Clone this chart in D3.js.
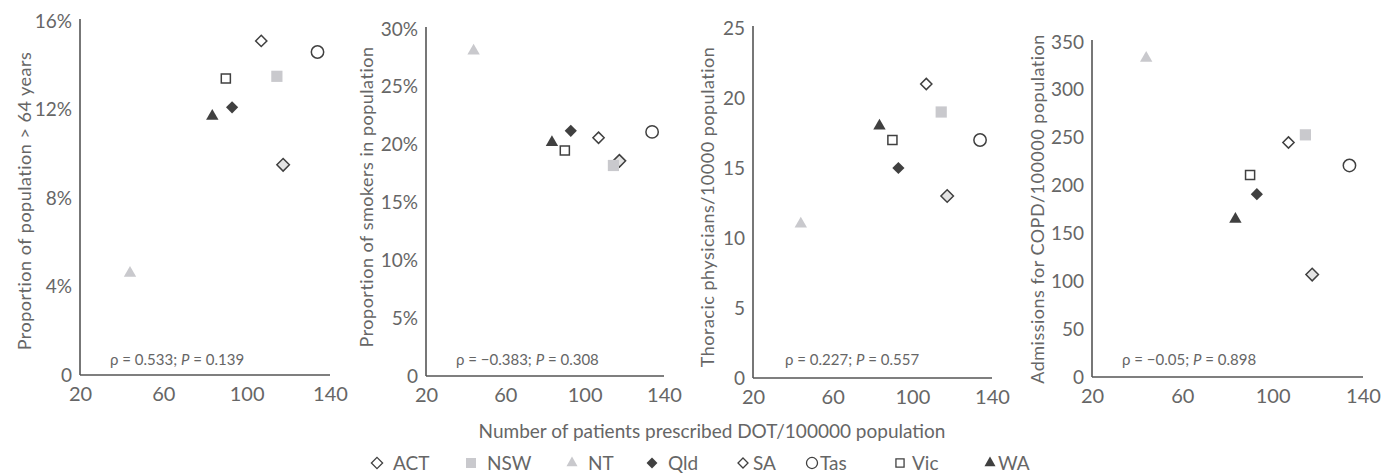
<!DOCTYPE html>
<html>
<head>
<meta charset="utf-8">
<script src="https://cdn.jsdelivr.net/npm/d3@7"></script>
<style>
  body { margin: 0; background: #fff; }
  svg text { font-family: Lato, "Open Sans", sans-serif; font-weight: 400; fill: #666; }
</style>
</head>
<body>
<div id="chart"></div>
<script>
// states and their values
var states = ["ACT", "NSW", "NT", "Qld", "SA", "Tas", "Vic", "WA"];
var dotRate = [117.5, 114.5, 44, 93, 107, 134, 90, 83.5];
var elderly = [9.5, 13.5, 4.6, 12.1, 15.1, 14.6, 13.4, 11.7];
var smokers = [18.6, 18.2, 28.1, 21.2, 20.6, 21.1, 19.5, 20.2];
var physicians = [13, 19, 11, 15, 21, 17, 17, 18];
var copd = [107, 253, 333, 191, 245, 221, 211, 165];

var xTicks = [20, 60, 100, 140];
var yTicks1 = [0, 4, 8, 12, 16];
var yTicks2 = [0, 5, 10, 15, 20, 25, 30];
var yTicks3 = [0, 5, 10, 15, 20, 25];
var yTicks4 = [0, 50, 100, 150, 200, 250, 300, 350];

var yTitles = ["Proportion of population > 64 years", "Proportion of smokers in population",
               "Thoracic physicians/10000 population", "Admissions for COPD/100000 population"];
var rhoText = ["0.533", "\u22120.383", "0.227", "\u22120.05"];
var pText = ["0.139", "0.308", "0.557", "0.898"];

var width = 1391, height = 473;

var svg = d3.select("#chart")
  .append("svg")
    .attr("width", width)
    .attr("height", height);

// marker styles per state
var dark = "#404040", light = "#c9c9cd";
var styles = {
  ACT: {sym: d3.symbolDiamond2, size: 100, fill: "#e4e4e4", stroke: dark},
  NSW: {sym: d3.symbolSquare2, size: 160, fill: light, stroke: "none"},
  NT:  {sym: d3.symbolTriangle2, size: 110, fill: light, stroke: "none"},
  Qld: {sym: d3.symbolDiamond2, size: 95, fill: dark, stroke: "none"},
  SA:  {sym: d3.symbolDiamond2, size: 80, fill: "#fff", stroke: dark},
  Tas: {sym: d3.symbolCircle, size: 120, fill: "#fff", stroke: dark},
  Vic: {sym: d3.symbolSquare2, size: 105, fill: "#fff", stroke: dark},
  WA:  {sym: d3.symbolTriangle2, size: 110, fill: dark, stroke: "none"}
};

// panel layout: plot box for each panel
var panels = [
  {x0: 80,   x1: 330,  y0: 375, y1: 21, ymax: 16,  ticks: yTicks1, vals: elderly,    pct: true,  tx: 24,   ty: 201, ax: 110},
  {x0: 426,  x1: 664,  y0: 376, y1: 29, ymax: 30,  ticks: yTicks2, vals: smokers,    pct: true,  tx: 366,  ty: 197, ax: 456},
  {x0: 753,  x1: 992,  y0: 378, y1: 28, ymax: 25,  ticks: yTicks3, vals: physicians, pct: false, tx: 707,  ty: 207, ax: 785},
  {x0: 1092, x1: 1363, y0: 377, y1: 42, ymax: 350, ticks: yTicks4, vals: copd,       pct: false, tx: 1037, ty: 209, ax: 1122}
];

panels.forEach(function(p, i) {
  var x = d3.scaleLinear().domain([20, 140]).range([p.x0, p.x1]);
  var y = d3.scaleLinear().domain([0, p.ymax]).range([p.y0, p.y1]);

  var g = svg.append("g");

  var xa = g.append("g")
    .attr("transform", "translate(0," + p.y0 + ")")
    .call(d3.axisBottom(x).tickValues(xTicks).tickSize(0).tickPadding(12));
  xa.selectAll("text").style("font-size", "20px");

  var ya = g.append("g")
    .attr("transform", "translate(" + p.x0 + ",0)")
    .call(d3.axisLeft(y).tickValues(p.ticks).tickSize(0).tickPadding(8)
      .tickFormat(function(d) { return d === 0 ? "0" : (p.pct ? d + "%" : d); }));
  ya.selectAll("text").style("font-size", "19px");

  // axis lines as plain L shape
  g.selectAll(".domain").remove();
  g.append("line")
    .attr("x1", p.x0).attr("x2", p.x0)
    .attr("y1", p.y1 - 2).attr("y2", p.y0)
    .attr("stroke", "#555").attr("stroke-width", 1.6);
  g.append("line")
    .attr("x1", p.x0).attr("x2", p.x1)
    .attr("y1", p.y0).attr("y2", p.y0)
    .attr("stroke", "#555").attr("stroke-width", 1.6);

  g.append("text")
    .attr("transform", "translate(" + p.tx + "," + p.ty + ") rotate(-90)")
    .attr("text-anchor", "middle")
    .attr("dominant-baseline", "central")
    .style("font-size", "18px")
    .style("letter-spacing", "0.5px")
    .text(yTitles[i]);

  var note = g.append("text")
    .attr("x", p.ax)
    .attr("y", 365)
    .style("font-size", "15px");
  note.append("tspan").text("\u03c1 = " + rhoText[i] + "; ");
  note.append("tspan").style("font-style", "italic").text("P");
  note.append("tspan").text(" = " + pText[i]);

  g.selectAll(".pt")
    .data(states)
    .enter().append("path")
      .attr("class", "pt")
      .attr("transform", function(d, j) { return "translate(" + x(dotRate[j]) + "," + y(p.vals[j]) + ")"; })
      .attr("d", function(d) { return d3.symbol().type(styles[d].sym).size(styles[d].size)(); })
      .attr("fill", function(d) { return styles[d].fill; })
      .attr("stroke", function(d) { return styles[d].stroke; })
      .attr("stroke-width", 1.5);
});

svg.append("text")
  .attr("x", 712)
  .attr("y", 438)
  .attr("text-anchor", "middle")
  .style("font-size", "19px")
  .text("Number of patients prescribed DOT/100000 population");

// legend
var legendX = [377, 471, 572, 652, 743, 812, 900, 990];
var legendTx = [393, 487, 588, 668, 753, 820, 912, 998];
var legend = svg.append("g");
states.forEach(function(s, i) {
  var st = styles[s];
  legend.append("path")
    .attr("transform", "translate(" + legendX[i] + ",463)")
    .attr("d", d3.symbol().type(st.sym).size(st.size * 0.8)())
    .attr("fill", s === "ACT" ? "#fff" : st.fill)
    .attr("stroke", st.stroke)
    .attr("stroke-width", 1.3);
  legend.append("text")
    .attr("x", legendTx[i])
    .attr("y", 470)
    .style("font-size", "19px")
    .text(s);
});
</script>
</body>
</html>
